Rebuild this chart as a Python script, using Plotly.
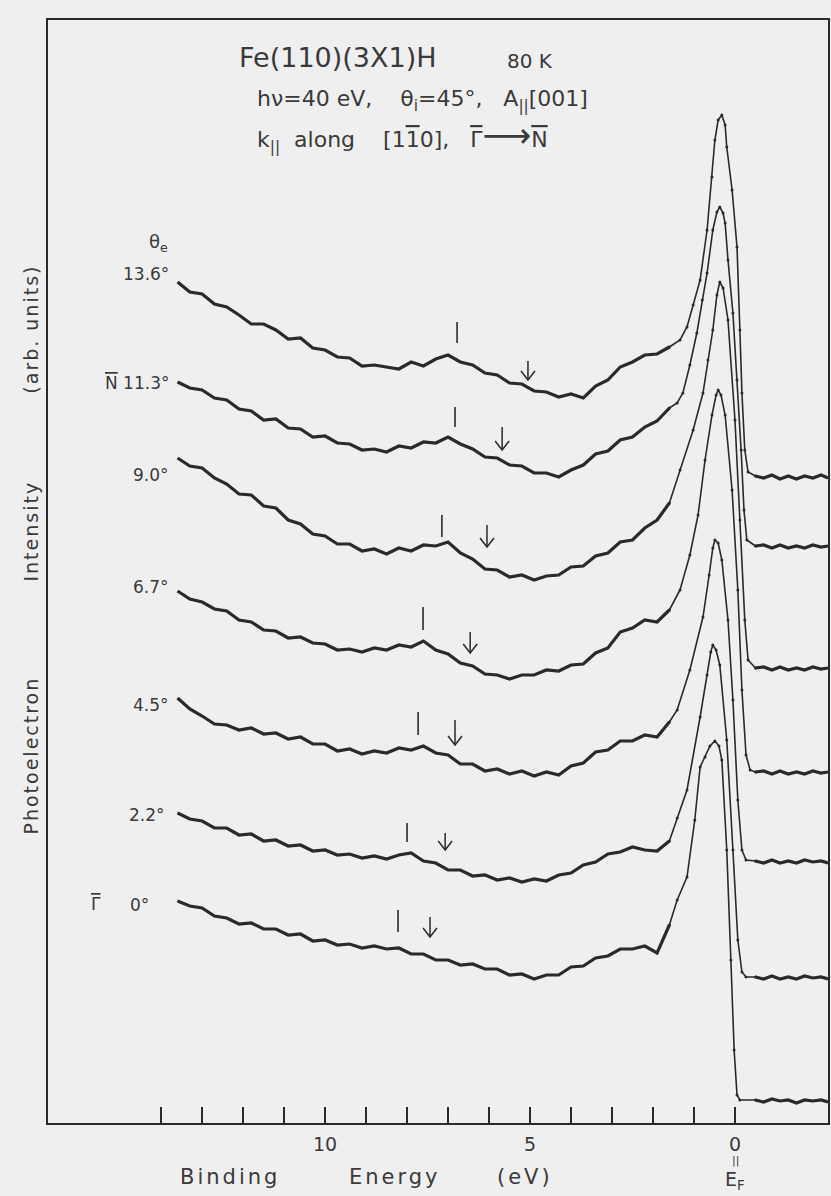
import plotly.graph_objects as go

# ---------------- data (binding energy in eV, intensity in arb. units incl. stacking offset) -------------
E_BG = [13.6, 13.3, 13.0, 12.7, 12.4, 12.1, 11.8, 11.5, 11.2, 10.9, 10.6, 10.3, 10.0, 9.7, 9.4,
        9.1, 8.8, 8.5, 8.2, 7.9, 7.6, 7.3, 7.0, 6.7, 6.4, 6.1, 5.8, 5.5, 5.2, 4.9, 4.6, 4.3,
        4.0, 3.7, 3.4, 3.1, 2.8, 2.5, 2.2, 1.9, 1.6]
E_TAIL = [-0.5, -0.7, -0.9, -1.1, -1.3, -1.5, -1.7, -1.9, -2.1, -2.27]

OVL = "<span style='text-decoration:overline'>{}</span>"
ANGLE_LABELS = ["13.6°", OVL.format("N") + " 11.3°", "9.0°", "6.7°", "4.5°", "2.2°", "0°"]

BG_136 = [843, 833, 831, 821, 818, 810, 801, 801, 795, 786, 787, 777, 775, 768, 767, 759, 760, 758,
          756, 763, 759, 766, 770, 763, 760, 752, 750, 742, 741, 734, 733, 728, 731, 727, 739, 745,
          758, 763, 770, 771, 778]
PK_E_136 = [1.34, 1.17, 1.02, 0.85, 0.68, 0.56, 0.49, 0.41, 0.32, 0.24, 0.20, 0.07, -0.05, -0.12,
            -0.17, -0.24, -0.32]
PK_I_136 = [785, 798, 820, 845, 895, 948, 985, 1005, 1010, 1000, 978, 935, 878, 795, 732, 675, 653]
TAIL_136 = [649, 647, 650, 646, 649, 646, 649, 647, 650, 647]

BG_113 = [743, 737, 735, 727, 725, 716, 714, 705, 706, 697, 696, 688, 689, 682, 681, 675, 676, 673,
          679, 677, 683, 682, 688, 681, 676, 668, 667, 660, 659, 652, 652, 648, 655, 660, 671, 674,
          685, 688, 698, 704, 717]
PK_E_113 = [1.41, 1.27, 1.10, 0.93, 0.80, 0.68, 0.54, 0.44, 0.37, 0.29, 0.24, 0.17, 0.05, -0.05,
            -0.15, -0.22, -0.29]
PK_I_113 = [722, 732, 760, 792, 825, 852, 895, 913, 918, 912, 902, 865, 812, 745, 675, 615, 585]
TAIL_113 = [579, 580, 577, 580, 577, 579, 577, 580, 578, 579]

BG_90 = [667, 659, 657, 647, 641, 631, 630, 619, 617, 605, 601, 591, 589, 581, 581, 574, 576, 571,
         577, 574, 580, 579, 583, 572, 566, 556, 555, 548, 550, 545, 549, 550, 558, 559, 569, 572,
         583, 585, 597, 605, 622]
PK_E_90 = [1.34, 1.02, 0.78, 0.66, 0.54, 0.44, 0.37, 0.29, 0.17, 0.0, -0.12, -0.24, -0.32]
PK_I_90 = [655, 695, 732, 765, 795, 830, 843, 837, 805, 705, 605, 505, 465]
TAIL_90 = [457, 458, 455, 458, 455, 457, 455, 458, 456, 457]

BG_67 = [534, 526, 523, 516, 514, 505, 503, 495, 494, 487, 488, 482, 481, 475, 476, 473, 477, 475,
         480, 478, 484, 475, 471, 462, 459, 451, 450, 446, 450, 450, 455, 454, 460, 461, 472, 477,
         493, 497, 505, 503, 515]
PK_E_67 = [1.34, 1.10, 0.90, 0.73, 0.56, 0.46, 0.41, 0.34, 0.24, 0.07, -0.07, -0.17, -0.27, -0.37]
PK_I_67 = [535, 570, 610, 665, 710, 730, 735, 730, 710, 635, 535, 435, 370, 355]
TAIL_67 = [353, 354, 351, 354, 351, 353, 351, 354, 352, 353]

BG_45 = [427, 416, 409, 401, 400, 395, 397, 391, 392, 386, 388, 381, 381, 374, 376, 371, 374, 372,
         377, 375, 379, 372, 370, 361, 361, 354, 356, 351, 354, 349, 353, 350, 359, 362, 373, 375,
         384, 384, 390, 388, 403]
PK_E_45 = [1.41, 1.10, 0.78, 0.63, 0.54, 0.49, 0.41, 0.32, 0.17, 0.05, -0.07, -0.17, -0.27]
PK_I_45 = [415, 455, 508, 550, 577, 585, 582, 565, 505, 425, 325, 275, 265]
TAIL_45 = [264, 262, 265, 262, 264, 262, 265, 263, 264, 262]

BG_22 = [312, 306, 304, 297, 297, 290, 291, 284, 285, 279, 280, 274, 275, 270, 271, 267, 269, 266,
         270, 272, 264, 262, 255, 255, 249, 250, 245, 247, 243, 246, 244, 250, 252, 260, 263, 271,
         273, 278, 275, 274, 284]
PK_E_22 = [1.41, 1.17, 0.85, 0.68, 0.59, 0.54, 0.46, 0.37, 0.20, 0.05, -0.07, -0.17, -0.27]
PK_I_22 = [307, 335, 408, 450, 473, 480, 475, 460, 385, 275, 185, 153, 148]
TAIL_22 = [148, 146, 149, 146, 148, 146, 149, 147, 148, 146]

BG_00 = [224, 219, 217, 209, 207, 201, 202, 196, 196, 190, 191, 184, 185, 180, 181, 177, 179, 176,
         177, 171, 171, 165, 165, 160, 161, 156, 156, 150, 151, 146, 150, 150, 158, 159, 167, 169,
         176, 176, 179, 172, 200]
PK_E_00 = [1.41, 1.17, 0.98, 0.85, 0.73, 0.61, 0.49, 0.39, 0.32, 0.20, 0.10, 0.02, -0.05, -0.12]
PK_I_00 = [225, 248, 305, 358, 368, 379, 384, 379, 365, 275, 165, 75, 30, 25]
TAIL_00 = [25, 23, 26, 24, 25, 22, 25, 24, 25, 23]

# feature markers: bar "I" and arrow for each spectrum
BAR_E = [6.78, 6.83, 7.15, 7.61, 7.73, 8.0, 8.22]
BAR_LO = [782, 698, 588, 495, 390, 283, 193]
BAR_HI = [803, 718, 610, 518, 413, 302, 215]
ARR_E = [5.05, 5.68, 6.05, 6.46, 6.83, 7.07, 7.44]
ARR_TIP = [745, 675, 578, 472, 380, 275, 188]
ARR_TOP = [764, 698, 600, 493, 405, 292, 208]

LABEL_E = [13.75, 13.75, 13.75, 13.75, 13.75, 13.85, 14.25]
LABEL_Y = [851, 742, 650, 538, 420, 310, 220]

X_TICKS = list(range(0, 15))
X_TICKTEXT = ["0", "", "", "", "", "5", "", "", "", "", "10", "", "", "", ""]

spectra = [
    (BG_136, PK_E_136, PK_I_136, TAIL_136),
    (BG_113, PK_E_113, PK_I_113, TAIL_113),
    (BG_90, PK_E_90, PK_I_90, TAIL_90),
    (BG_67, PK_E_67, PK_I_67, TAIL_67),
    (BG_45, PK_E_45, PK_I_45, TAIL_45),
    (BG_22, PK_E_22, PK_I_22, TAIL_22),
    (BG_00, PK_E_00, PK_I_00, TAIL_00),
]

INK = "#2a2a2a"
TXT = "#3a3a3a"
PAPER = "#efefef"
FONT = "DejaVu Sans"
SP = "\u00a0"

fig = go.Figure()
for bg, pe, pi, tail in spectra:
    # noisy low-count background and flat region above E_F (thick trace)
    fig.add_trace(go.Scatter(x=E_BG + [None] + E_TAIL, y=bg + [None] + tail, mode="lines",
                             line=dict(color=INK, width=3.2), connectgaps=False,
                             hoverinfo="skip"))
    # d-band peak and Fermi edge (thin line with data dots)
    fig.add_trace(go.Scatter(x=[E_BG[-1]] + pe + [E_TAIL[0]], y=[bg[-1]] + pi + [tail[0]],
                             mode="lines+markers", line=dict(color=INK, width=1.6),
                             marker=dict(size=3, color=INK), hoverinfo="skip"))

shapes = []
for e, lo, hi in zip(BAR_E, BAR_LO, BAR_HI):
    shapes.append(dict(type="line", xref="x", yref="y", x0=e, x1=e, y0=lo, y1=hi,
                       line=dict(color=INK, width=1.6)))
for e, tip, top in zip(ARR_E, ARR_TIP, ARR_TOP):
    shapes.append(dict(type="line", xref="x", yref="y", x0=e, x1=e, y0=tip, y1=top,
                       line=dict(color=INK, width=1.5)))
    shapes.append(dict(type="path", xref="x", yref="y",
                       path=f"M {e - 0.17} {tip + 9} L {e} {tip} L {e + 0.17} {tip + 9}",
                       line=dict(color=INK, width=1.5)))

ann = []
def txt(x, y, s, size, xanchor="center", angle=0, ref="data"):
    r = ("x", "y") if ref == "data" else ("paper", "paper")
    ann.append(dict(x=x, y=y, xref=r[0], yref=r[1], text=s, showarrow=False, xanchor=xanchor,
                    yanchor="middle", textangle=angle,
                    font=dict(family=FONT, size=size, color=TXT)))

def spaced(s, px):
    return f"<span style='letter-spacing:{px}px'>{s}</span>"

# header text
txt(12.15, 1068, "Fe(110)(3X1)H", 27, xanchor="left")
txt(5.6, 1064, f"80{SP}K", 20, xanchor="left")
txt(11.7, 1025, f"hν=40 eV,{SP*4}θ<sub>i</sub>=45°,{SP*3}A<sub>||</sub>[001]", 22, xanchor="left")
txt(11.7, 990,
    f"k<sub>||</sub>{SP*2}along{SP*4}[1{OVL.format('1')}0],{SP*3}{OVL.format('Γ')}"
    f"<span style='font-size:34px'>⟶</span>{OVL.format('N')}", 22, xanchor="left")

# angle labels
txt(14.07, 882, "θ<sub>e</sub>", 18)
for e, y, s in zip(LABEL_E, LABEL_Y, ANGLE_LABELS):
    txt(e, y, s, 17, xanchor="right")
txt(15.59, 221, OVL.format("Γ"), 17)

# y-axis title (outside the axes -> paper coordinates)
txt(-0.022, 0.72, spaced("(arb.\u00a0units)", 2), 19, angle=-90, ref="paper")
txt(-0.022, 0.537, spaced("Intensity", 2), 19, angle=-90, ref="paper")
txt(-0.022, 0.333, spaced("Photoelectron", 2), 19, angle=-90, ref="paper")

# x-axis title and Fermi level
txt(0.233, -0.049, spaced("Binding", 3), 21, ref="paper")
txt(0.445, -0.049, spaced("Energy", 3), 21, ref="paper")
txt(0.612, -0.049, spaced("(eV)", 3), 21, ref="paper")
txt(0.881, -0.034, "||", 11, ref="paper")
txt(0.881, -0.052, "E<sub>F</sub>", 19, ref="paper")

fig.update_layout(
    width=831, height=1196,
    margin=dict(l=48, r=3, t=20, b=73),
    paper_bgcolor=PAPER, plot_bgcolor=PAPER,
    showlegend=False,
    shapes=shapes, annotations=ann,
    font=dict(family=FONT, color=TXT),
    xaxis=dict(range=[16.76, -2.27], tickmode="array", tickvals=X_TICKS, ticktext=X_TICKTEXT,
               ticks="inside", ticklen=16, tickwidth=1.5, tickcolor=INK,
               showline=True, mirror=True, linecolor=INK, linewidth=1.6,
               showgrid=False, zeroline=False, automargin=False,
               tickfont=dict(family=FONT, size=19, color=TXT), ticklabelstandoff=3),
    yaxis=dict(range=[2, 1105], showticklabels=False, ticks="",
               showline=True, mirror=True, linecolor=INK, linewidth=1.6,
               showgrid=False, zeroline=False, automargin=False),
)

# remove the browser's default page margin so the figure fills the window exactly
fig.write_html("out.html",
               config={"displayModeBar": False},
               post_script="document.body.style.margin='0';"
                           "document.body.style.background='#efefef';")
